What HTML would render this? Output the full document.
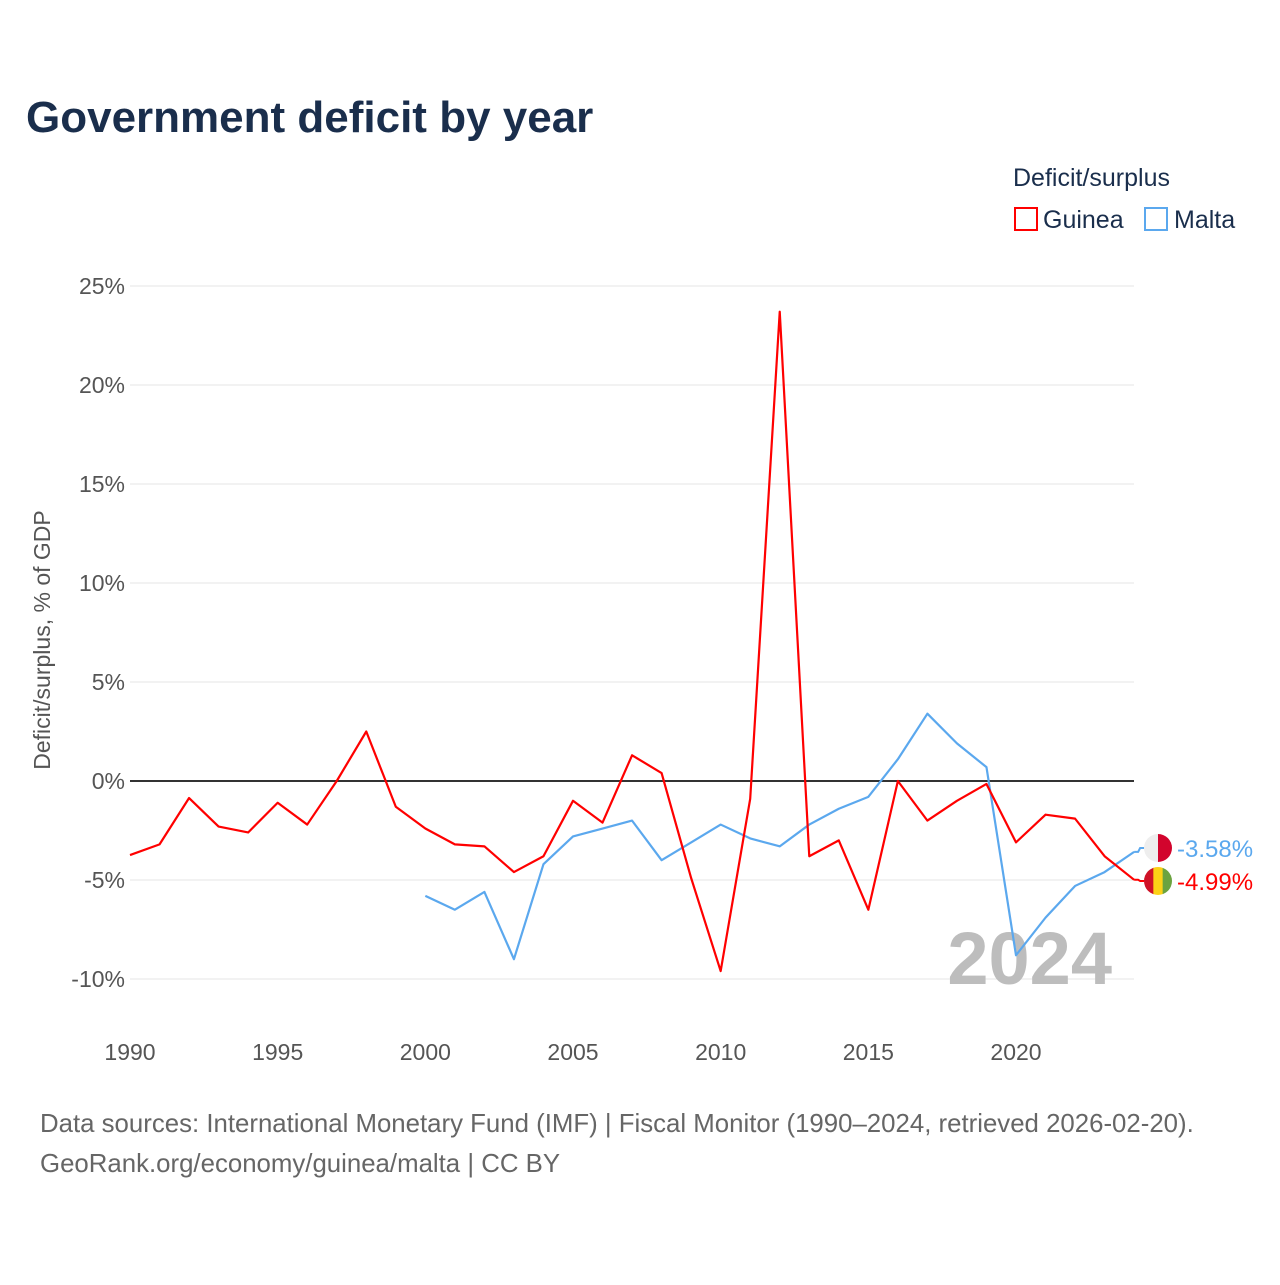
<!DOCTYPE html>
<html><head><meta charset="utf-8"><style>
body{margin:0;background:#fff;font-family:"Liberation Sans",sans-serif}
svg text{font-family:"Liberation Sans",sans-serif}
</style></head><body>
<svg id="c" width="1280" height="1280" xmlns="http://www.w3.org/2000/svg">
<text x="26" y="132" font-size="44" font-weight="bold" fill="#1a2e4c">Government deficit by year</text>
<g>
<text x="1013" y="186" font-size="25" fill="#1a2e4c">Deficit/surplus</text>
<g><rect x="1015" y="208" width="22" height="22" fill="none" stroke="#ff0000" stroke-width="2"/><text x="1043" y="228" font-size="25" fill="#1a2e4c">Guinea</text></g>
<g><rect x="1145" y="208" width="22" height="22" fill="none" stroke="#5ba8ee" stroke-width="2"/><text x="1174" y="228" font-size="25" fill="#1a2e4c">Malta</text></g>
</g>
<text transform="translate(50,640) rotate(-90)" text-anchor="middle" font-size="23" fill="#555">Deficit/surplus, % of GDP</text>
<g id="grid"></g><g id="yt"></g><g id="xt"></g>
<text x="1112" y="984" text-anchor="end" font-size="74" font-weight="bold" fill="#bdbdbd">2024</text>
<g id="series"></g>
<text x="40" y="1132" font-size="25.8" fill="#666">Data sources: International Monetary Fund (IMF) | Fiscal Monitor (1990–2024, retrieved 2026-02-20).</text>
<text x="40" y="1172" font-size="25.8" fill="#666">GeoRank.org/economy/guinea/malta | CC BY</text>
</svg>
<script>
const yTicks=[25,20,15,10,5,0,-5,-10];
const xTicks=[1990,1995,2000,2005,2010,2015,2020];
const guineaYears=[1990,1991,1992,1993,1994,1995,1996,1997,1998,1999,2000,2001,2002,2003,2004,2005,2006,2007,2008,2009,2010,2011,2012,2013,2014,2015,2016,2017,2018,2019,2020,2021,2022,2023,2024];
const guinea=[-3.74,-3.2,-0.86,-2.3,-2.6,-1.1,-2.2,0,2.5,-1.3,-2.4,-3.2,-3.3,-4.6,-3.8,-1.0,-2.1,1.3,0.4,-4.9,-9.6,-0.9,23.7,-3.8,-3.0,-6.5,0,-2.0,-1.0,-0.15,-3.1,-1.7,-1.9,-3.8,-4.99];
const maltaYears=[2000,2001,2002,2003,2004,2005,2006,2007,2008,2009,2010,2011,2012,2013,2014,2015,2016,2017,2018,2019,2020,2021,2022,2023,2024];
const malta=[-5.8,-6.5,-5.6,-9.0,-4.2,-2.8,-2.4,-2.0,-4.0,-3.1,-2.2,-2.9,-3.3,-2.2,-1.4,-0.8,1.1,3.4,1.9,0.7,-8.8,-6.9,-5.3,-4.6,-3.58];
const X=y=>130+(y-1990)*(886/30);
const Y=v=>781-v*19.8;
const NS='http://www.w3.org/2000/svg';
function mk(t,a,p){const e=document.createElementNS(NS,t);for(const k in a)e.setAttribute(k,a[k]);p.appendChild(e);return e;}
const grid=document.getElementById('grid'),yt=document.getElementById('yt'),xt=document.getElementById('xt'),ser=document.getElementById('series');
yTicks.forEach(v=>{
 const l=mk('line',{x1:130,x2:1134,y1:Y(v),y2:Y(v),stroke:v===0?'#333':'#e6e6e6','stroke-width':v===0?2:1},grid);
 
 
 const t=mk('text',{x:125,y:Y(v)+8,'text-anchor':'end','font-size':23,fill:'#555'},yt);
 t.textContent=v+'%';
 
 
});
xTicks.forEach(v=>{
 const t=mk('text',{x:X(v),y:1060,'text-anchor':'middle','font-size':23,fill:'#555'},xt);
 t.textContent=v;
 
 
});
function line(years,vals,col,name,ly,label,flag){
 const pts=years.map((y,i)=>X(y)+','+Y(vals[i])).join(' ');
 const p=mk('polyline',{points:pts,fill:'none',stroke:col,'stroke-width':2.2,'stroke-linejoin':'round'},ser);
 
 
 const lx=X(years[years.length-1]),lv=Y(vals[vals.length-1]);
 mk('polyline',{points:`${lx},${lv} ${lx+4},${lv} ${lx+6},${ly} ${lx+10},${ly}`,fill:'none',stroke:col,'stroke-width':2},ser);
 const g=mk('g',{},ser);
 
 
 const cx=1158,r=14;
 const cp=mk('clipPath',{id:'cp'+name},g);mk('circle',{cx:cx,cy:ly,r:r},cp);
 const gg=mk('g',{'clip-path':'url(#cp'+name+')'},g);
 flag.forEach((c,i)=>mk('rect',{x:cx-r+i*(2*r/flag.length),y:ly-r,width:2*r/flag.length+0.5,height:2*r,fill:c},gg));
 const t=mk('text',{x:1177,y:ly+9,'font-size':24,fill:col},ser);
 t.textContent=label;
 
 
}
line(maltaYears,malta,'#5ba8ee','malta',848,malta[malta.length-1].toFixed(2)+'%',['#eeeeee','#d2042d']);
line(guineaYears,guinea,'#ff0000','guinea',881,guinea[guinea.length-1].toFixed(2)+'%',['#ce1126','#fcd116','#6ba340']);
</script>
</body></html>
